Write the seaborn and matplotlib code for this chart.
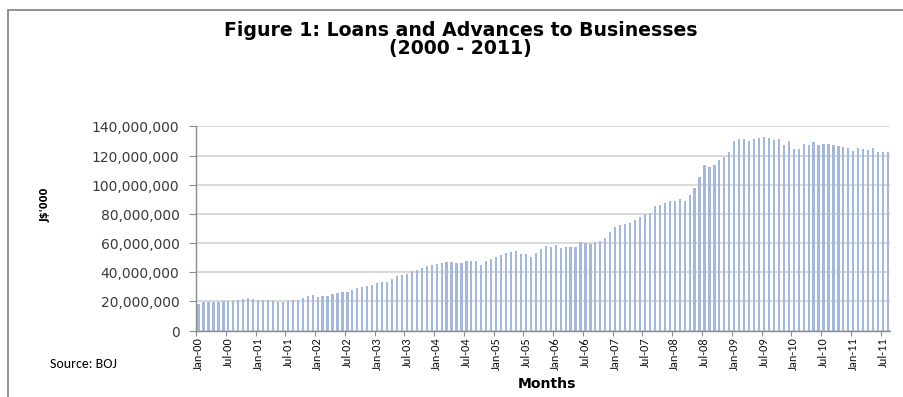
import matplotlib
matplotlib.use("Agg")
import matplotlib.pyplot as plt
import matplotlib.patches as mpatches
from matplotlib.ticker import FuncFormatter, FixedLocator
import seaborn as sns
import pandas as pd

# Monthly loans and advances to businesses, J$'000 (in millions), Jan-2000 .. Aug-2011
loans_mn = [
    18.5, 19.5, 19.7, 19.7, 19.7, 20.5, 20.5, 20.5, 20.8, 21.5, 22.2, 21.7,
    21.3, 20.8, 21.0, 20.3, 19.7, 19.7, 20.1, 20.8, 21.0, 22.2, 23.8, 24.3,
    23.3, 23.6, 23.6, 25.0, 25.9, 26.8, 26.4, 27.8, 29.1, 29.6, 30.8, 31.2,
    32.6, 33.1, 33.1, 35.6, 37.7, 38.3, 38.6, 40.9, 41.6, 43.2, 44.4, 44.9,
    45.8, 46.2, 46.7, 46.9, 46.2, 46.4, 47.6, 47.4, 47.6, 44.9, 47.6, 49.0,
    50.8, 51.7, 53.1, 53.8, 54.7, 52.2, 52.2, 50.8, 53.5, 55.6, 57.7, 57.4,
    58.8, 56.3, 57.4, 57.4, 57.4, 60.4, 60.0, 59.5, 60.9, 61.3, 63.6, 67.7,
    71.2, 72.1, 73.2, 73.7, 75.8, 77.6, 79.6, 80.6, 85.6, 86.1, 87.4, 88.6,
    89.0, 90.2, 88.8, 93.1, 97.5, 105.5, 113.7, 111.9, 113.5, 116.9, 119.0, 122.6,
    130.0, 131.1, 131.1, 130.2, 131.3, 131.8, 132.7, 132.0, 130.7, 131.3, 127.2, 130.0,
    124.5, 124.5, 128.1, 127.2, 129.0, 127.0, 127.9, 127.7, 127.0, 126.5, 125.6, 124.9,
    123.3, 124.9, 124.2, 124.0, 125.4, 122.2, 122.4, 122.2,
]
months = list(pd.date_range("2000-01-01", periods=len(loans_mn), freq="MS").strftime("%b-%y"))
y_ticks = [0, 20e6, 40e6, 60e6, 80e6, 100e6, 120e6, 140e6]

df = pd.DataFrame({"month": months, "loans": [v * 1e6 for v in loans_mn]})

sns.set_theme(style="white")
plt.rcParams["font.family"] = ["DejaVu Sans"]
plt.rcParams["text.color"] = "black"

W, H = 903, 397
fig = plt.figure(figsize=(9.035, 3.975), dpi=100)
ax = fig.add_axes([196 / W, 1 - 330.7 / H, (890 - 196) / W, (330.7 - 126.7) / H])

sns.barplot(data=df, x="month", y="loans", color="#a4b8de", saturation=1,
            width=0.45, ax=ax, linewidth=0)

ax.set_xlim(-0.5, len(months) - 0.5)
ax.set_ylim(0, 140e6)
ax.set_yticks(y_ticks)
ax.yaxis.set_major_formatter(FuncFormatter(lambda v, p: f"{v:,.0f}"))
ax.tick_params(axis="y", labelsize=10, labelcolor="#3a3a3a", color="#8c8c8c",
               length=5, width=0.8, direction="out", left=True, pad=7)

# every sixth month labelled, tick marks on category boundaries
label_pos = list(range(0, len(months), 6))
ax.set_xticks(label_pos)
ax.set_xticklabels([months[p] for p in label_pos], rotation=90, family="Carlito")
ax.tick_params(axis="x", labelsize=9, length=0, pad=4.5, labelcolor="#111111")
ax.xaxis.set_minor_locator(FixedLocator([p - 0.5 for p in label_pos]))
ax.tick_params(axis="x", which="minor", length=3.5, width=0.8, color="#8c8c8c",
               direction="out", bottom=True)

ax.grid(axis="y", color="#cfcfcf", linewidth=1.1)
ax.grid(axis="x", visible=False)
ax.set_axisbelow(True)
for side in ("top", "right"):
    ax.spines[side].set_visible(False)
for side in ("left", "bottom"):
    ax.spines[side].set_color("#8c8c8c")
    ax.spines[side].set_linewidth(1.0)

ax.set_xlabel("")
ax.set_ylabel("")

title1 = fig.text(460 / W, 1 - 30 / H, "Figure 1: Loans and Advances to Businesses",
                  ha="center", va="center", fontsize=12, fontweight="bold")
title2 = fig.text(460 / W, 1 - 48 / H, "(2000 - 2011)",
                  ha="center", va="center", fontsize=12, fontweight="bold")
ylab = fig.text(45 / W, 1 - 205 / H, "J$'000", rotation=90, ha="center", va="center",
                fontsize=9, fontweight="bold")
xlab = fig.text(547 / W, 1 - 384 / H, "Months", ha="center", va="center",
                fontsize=9, fontweight="bold")
source = fig.text(50 / W, 1 - 364 / H, "Source: BOJ", ha="left", va="center",
                  fontsize=9, family="Carlito")

# size the text so each piece spans its intended pixel extent
fig.canvas.draw()
renderer = fig.canvas.get_renderer()


def fit(text, target, vertical=False):
    bb = text.get_window_extent(renderer)
    size = bb.height if vertical else bb.width
    text.set_fontsize(text.get_fontsize() * target / size)
    return text.get_fontsize()


s = fit(title1, 470)
title2.set_fontsize(s)
fit(ylab, 35, vertical=True)
fit(xlab, 58)
fit(source, 67)

ytl = ax.get_yticklabels()[-1]
ys = ytl.get_fontsize() * 88 / ytl.get_window_extent(renderer).width
ax.tick_params(axis="y", labelsize=ys)
xtl = ax.get_xticklabels()[0]
xs = xtl.get_fontsize() * 33 / xtl.get_window_extent(renderer).height
ax.tick_params(axis="x", labelsize=xs)

# outer frame of the chart area
frame = mpatches.Rectangle((8 / W, -0.1), 1.2, 1 - 10 / H + 0.1,
                           transform=fig.transFigure, fill=False,
                           edgecolor="#8a8a8a", linewidth=1.3, clip_on=False)
fig.add_artist(frame)

fig.savefig("out.png", dpi=100, facecolor="white")
